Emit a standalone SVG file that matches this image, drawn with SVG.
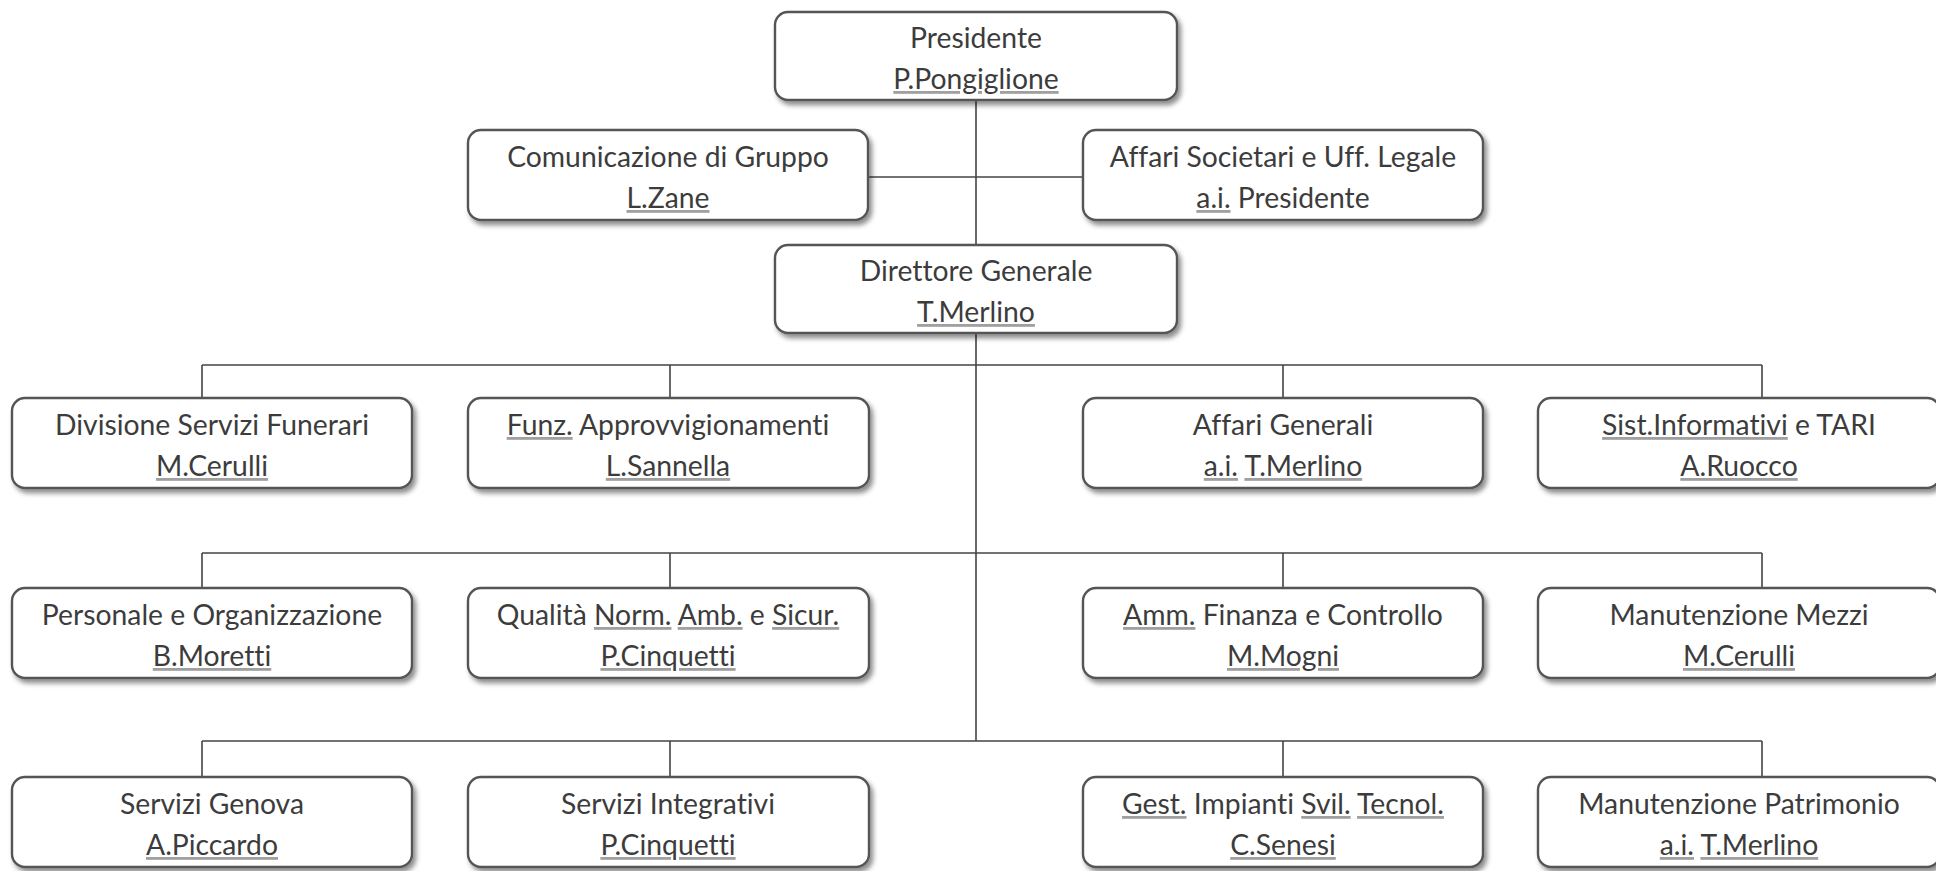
<svg xmlns="http://www.w3.org/2000/svg" width="1936" height="871" viewBox="0 0 1936 871">
<style>
.box{fill:#fff;stroke:#555;stroke-width:2.4;filter:url(#sh)}
.t{font-family:Lato,"Liberation Sans",sans-serif;font-size:28.3px;fill:#3c3c3c;text-anchor:middle;font-variant-ligatures:none;font-feature-settings:"liga" 0}
.w{text-decoration:underline wavy;text-decoration-thickness:1px;text-underline-offset:4px;fill:#a0a0a0}
.w tspan{fill:#3c3c3c}
.c{stroke:#444;stroke-width:1.6;fill:none}
</style>
<defs>
<filter id="sh" x="-5%" y="-10%" width="115%" height="130%">
<feDropShadow dx="3" dy="4" stdDeviation="2.5" flood-color="#000" flood-opacity="0.45"/>
</filter>
</defs>
<rect width="1936" height="871" fill="#fff"/>
<g id="connectors">
<path class="c" d="M976 100V741"/>
<path class="c" d="M868 177H1083"/>
<path class="c" d="M202 365H1762M202 365V398M670 365V398M1283 365V398M1762 365V398"/>
<path class="c" d="M202 553H1762M202 553V588M670 553V588M1283 553V588M1762 553V588"/>
<path class="c" d="M202 741H1762M202 741V777M670 741V777M1283 741V777M1762 741V777"/>
</g>
<g id="presidente"><rect class="box" x="775" y="12" width="402" height="88" rx="13"/>
<text class="t" x="976" y="48">Presidente</text><text class="t" x="976" y="89"><tspan class="w"><tspan>P.Pongiglione</tspan></tspan></text></g>
<g id="comunicazione"><rect class="box" x="468" y="130" width="400" height="90" rx="13"/>
<text class="t" x="668" y="167">Comunicazione di Gruppo</text><text class="t" x="668" y="208"><tspan class="w"><tspan>L.Zane</tspan></tspan></text></g>
<g id="affari-societari"><rect class="box" x="1083" y="130" width="400" height="90" rx="13"/>
<text class="t" x="1283" y="167">Affari Societari e Uff. Legale</text><text class="t" x="1283" y="208"><tspan class="w"><tspan>a.i.</tspan></tspan> Presidente</text></g>
<g id="direttore"><rect class="box" x="775" y="245" width="402" height="88" rx="13"/>
<text class="t" x="976" y="281">Direttore Generale</text><text class="t" x="976" y="322"><tspan class="w"><tspan>T.Merlino</tspan></tspan></text></g>

<g id="div-funerari"><rect class="box" x="12" y="398" width="400" height="90" rx="13"/>
<text class="t" x="212" y="435">Divisione Servizi Funerari</text><text class="t" x="212" y="476"><tspan class="w"><tspan>M.Cerulli</tspan></tspan></text></g>
<g id="approvvigionamenti"><rect class="box" x="468" y="398" width="401" height="90" rx="13"/>
<text class="t" x="668" y="435"><tspan class="w"><tspan>Funz.</tspan></tspan> Approvvigionamenti</text><text class="t" x="668" y="476"><tspan class="w"><tspan>L.Sannella</tspan></tspan></text></g>
<g id="affari-generali"><rect class="box" x="1083" y="398" width="400" height="90" rx="13"/>
<text class="t" x="1283" y="435">Affari Generali</text><text class="t" x="1283" y="476"><tspan class="w"><tspan>a.i.</tspan></tspan> <tspan class="w"><tspan>T.Merlino</tspan></tspan></text></g>
<g id="sist-informativi"><rect class="box" x="1538" y="398" width="402" height="90" rx="13"/>
<text class="t" x="1739" y="435"><tspan class="w"><tspan>Sist.Informativi</tspan></tspan> e TARI</text><text class="t" x="1739" y="476"><tspan class="w"><tspan>A.Ruocco</tspan></tspan></text></g>

<g id="personale"><rect class="box" x="12" y="588" width="400" height="90" rx="13"/>
<text class="t" x="212" y="625">Personale e Organizzazione</text><text class="t" x="212" y="666"><tspan class="w"><tspan>B.Moretti</tspan></tspan></text></g>
<g id="qualita"><rect class="box" x="468" y="588" width="401" height="90" rx="13"/>
<text class="t" x="668" y="625">Qualità <tspan class="w"><tspan>Norm.</tspan></tspan> <tspan class="w"><tspan>Amb.</tspan></tspan> e <tspan class="w"><tspan>Sicur.</tspan></tspan></text><text class="t" x="668" y="666"><tspan class="w"><tspan>P.Cinquetti</tspan></tspan></text></g>
<g id="amministrazione"><rect class="box" x="1083" y="588" width="400" height="90" rx="13"/>
<text class="t" x="1283" y="625"><tspan class="w"><tspan>Amm.</tspan></tspan> Finanza e Controllo</text><text class="t" x="1283" y="666"><tspan class="w"><tspan>M.Mogni</tspan></tspan></text></g>
<g id="manutenzione-mezzi"><rect class="box" x="1538" y="588" width="402" height="90" rx="13"/>
<text class="t" x="1739" y="625">Manutenzione Mezzi</text><text class="t" x="1739" y="666"><tspan class="w"><tspan>M.Cerulli</tspan></tspan></text></g>

<g id="servizi-genova"><rect class="box" x="12" y="777" width="400" height="90" rx="13"/>
<text class="t" x="212" y="814">Servizi Genova</text><text class="t" x="212" y="855"><tspan class="w"><tspan>A.Piccardo</tspan></tspan></text></g>
<g id="servizi-integrativi"><rect class="box" x="468" y="777" width="401" height="90" rx="13"/>
<text class="t" x="668" y="814">Servizi Integrativi</text><text class="t" x="668" y="855"><tspan class="w"><tspan>P.Cinquetti</tspan></tspan></text></g>
<g id="gest-impianti"><rect class="box" x="1083" y="777" width="400" height="90" rx="13"/>
<text class="t" x="1283" y="814"><tspan class="w"><tspan>Gest.</tspan></tspan> Impianti <tspan class="w"><tspan>Svil.</tspan></tspan> <tspan class="w"><tspan>Tecnol.</tspan></tspan></text><text class="t" x="1283" y="855"><tspan class="w"><tspan>C.Senesi</tspan></tspan></text></g>
<g id="manutenzione-patrimonio"><rect class="box" x="1538" y="777" width="402" height="90" rx="13"/>
<text class="t" x="1739" y="814">Manutenzione Patrimonio</text><text class="t" x="1739" y="855"><tspan class="w"><tspan>a.i.</tspan></tspan> <tspan class="w"><tspan>T.Merlino</tspan></tspan></text></g>
</svg>
